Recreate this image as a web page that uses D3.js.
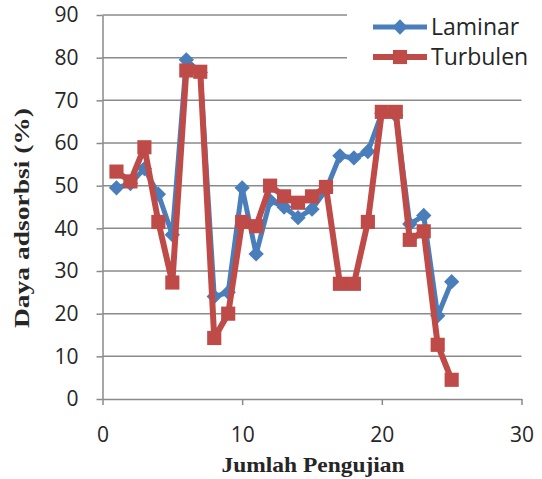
<!DOCTYPE html>
<html>
<head>
<meta charset="utf-8">
<script src="https://cdn.jsdelivr.net/npm/d3@7"></script>
<style>
  html, body { margin: 0; padding: 0; background: #fff; }
  svg { display: block; }
</style>
</head>
<body>
<svg id="chart" width="542" height="479"></svg>
<script>
// Trial number (1..25) on x, adsorption capacity (%) on y
const trials = d3.range(1, 26);
const laminar = [49.5, 50.5, 54, 48, 38.5, 79.5, 76.5, 24, 25, 49.5, 34, 46.5, 45, 42.5, 44.5,
                 49, 57, 56.5, 58, 67, 66.5, 41, 43, 19.5, 27.5];
const turbulen = [53.3, 51, 59, 41.5, 27.3, 77, 76.7, 14.3, 20, 41.5, 40.5, 50, 47.5, 46, 47.5,
                  49.7, 27, 27, 41.5, 67.3, 67.3, 37.3, 39.3, 12.7, 4.5];
const xTicks = [0, 10, 20, 30];
const yTicks = [0, 10, 20, 30, 40, 50, 60, 70, 80, 90];
const seriesNames = ["Laminar", "Turbulen"];
const xTitle = "Jumlah Pengujian";
const yTitle = "Daya adsorbsi (%)";

const svg = d3.select("#chart");
const x = d3.scaleLinear().domain([0, 30]).range([102.5, 521.5]);
const y = d3.scaleLinear().domain([0, 90]).range([399, 15]);

const gridColor = "#8a8a8a";
const blue = "#4a7ebb";
const red = "#be4b48";
const textColor = "#262626";
const sans = "'Open Sans', 'Liberation Sans', sans-serif";
const serif = "'Liberation Serif', 'DejaVu Serif', serif";

// horizontal gridlines
svg.append("g").selectAll("line")
  .data(yTicks.filter(d => d > 0))
  .join("line")
  .attr("x1", x(0)).attr("x2", x(30))
  .attr("y1", d => y(d)).attr("y2", d => y(d))
  .attr("stroke", gridColor).attr("stroke-width", 1.5);

// y axis
const yAxis = svg.append("g")
  .attr("transform", `translate(${x(0)},0)`)
  .call(d3.axisLeft(y).tickValues(yTicks).tickSize(6).tickPadding(18).tickSizeOuter(0));
yAxis.select(".domain").attr("stroke", gridColor).attr("stroke-width", 1.5);
yAxis.selectAll(".tick line").attr("stroke", gridColor).attr("stroke-width", 1.5);
yAxis.selectAll(".tick text")
  .attr("font-family", sans).attr("font-size", 21).attr("fill", textColor);

// x axis
const xAxis = svg.append("g")
  .attr("transform", `translate(0,${y(0)})`)
  .call(d3.axisBottom(x).tickValues(xTicks).tickSize(6).tickPadding(22).tickSizeOuter(0));
xAxis.select(".domain").attr("stroke", gridColor).attr("stroke-width", 1.5);
xAxis.selectAll(".tick line").attr("stroke", gridColor).attr("stroke-width", 1.5);
xAxis.selectAll(".tick text")
  .attr("font-family", sans).attr("font-size", 21).attr("fill", textColor);

// axis titles
svg.append("text")
  .attr("x", 313).attr("y", 472)
  .attr("text-anchor", "middle")
  .attr("font-family", serif).attr("font-weight", "bold").attr("font-size", 21)
  .attr("textLength", 183).attr("lengthAdjust", "spacingAndGlyphs")
  .attr("fill", textColor)
  .text(xTitle);

svg.append("text")
  .attr("transform", "translate(29,218) rotate(-90)")
  .attr("text-anchor", "middle")
  .attr("font-family", serif).attr("font-weight", "bold").attr("font-size", 21)
  .attr("textLength", 220).attr("lengthAdjust", "spacingAndGlyphs")
  .attr("fill", textColor)
  .text(yTitle);

const line = d3.line().x((d, i) => x(trials[i])).y(d => y(d));

const diamond = d3.symbol().type(d3.symbolDiamond2).size(150);
const square = d3.symbol().type(d3.symbolSquare).size(200);

// Laminar series
svg.append("path").datum(laminar)
  .attr("d", line).attr("fill", "none")
  .attr("stroke", blue).attr("stroke-width", 5).attr("stroke-linejoin", "round");
svg.append("g").selectAll("path")
  .data(laminar).join("path")
  .attr("transform", (d, i) => `translate(${x(trials[i])},${y(d)})`)
  .attr("d", diamond).attr("fill", blue);

// Turbulen series
svg.append("path").datum(turbulen)
  .attr("d", line).attr("fill", "none")
  .attr("stroke", red).attr("stroke-width", 6).attr("stroke-linejoin", "round");
svg.append("g").selectAll("path")
  .data(turbulen).join("path")
  .attr("transform", (d, i) => `translate(${x(trials[i])},${y(d)})`)
  .attr("d", square).attr("fill", red);

// legend
const legend = svg.append("g");
legend.append("rect")
  .attr("x", 347).attr("y", 4).attr("width", 195).attr("height", 72)
  .attr("fill", "#fff");
const entries = [
  { name: seriesNames[0], color: blue, width: 5, sym: diamond, cy: 27 },
  { name: seriesNames[1], color: red, width: 6, sym: square, cy: 57 }
];
entries.forEach(e => {
  legend.append("line")
    .attr("x1", 373).attr("x2", 427).attr("y1", e.cy).attr("y2", e.cy)
    .attr("stroke", e.color).attr("stroke-width", e.width);
  legend.append("path")
    .attr("transform", `translate(400,${e.cy})`)
    .attr("d", e.sym).attr("fill", e.color);
  legend.append("text")
    .attr("x", 431).attr("y", e.cy + 8)
    .attr("font-family", sans).attr("font-size", 23).attr("fill", textColor)
    .text(e.name);
});
</script>
</body>
</html>
